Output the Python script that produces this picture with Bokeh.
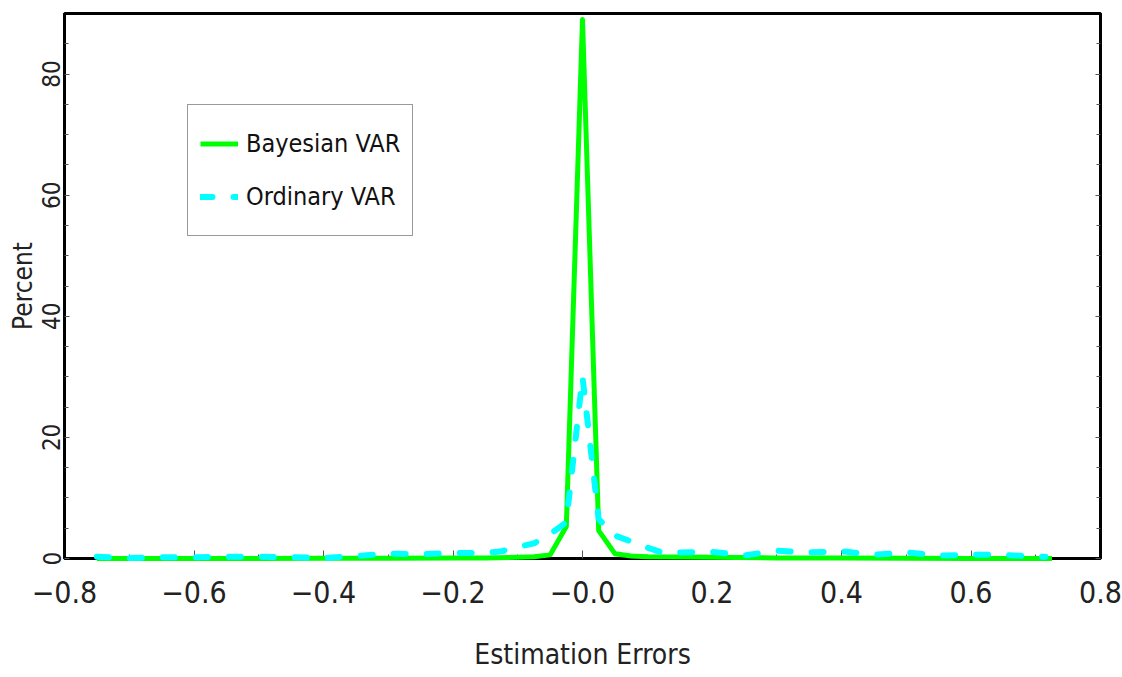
from bokeh.plotting import figure
from bokeh.models import (ColumnDataSource, Legend, LegendItem, LinearAxis,
                          FixedTicker, Range1d)
from bokeh.embed import file_html
from bokeh.resources import INLINE

# ---- data ----
bayes_x = [-0.75, -0.7, -0.6, -0.5, -0.4, -0.3, -0.2, -0.15, -0.1, -0.075, -0.05, -0.025,
           0.0, 0.025, 0.05, 0.075, 0.1, 0.2, 0.3, 0.4, 0.5, 0.6, 0.7, 0.725]
bayes_y = [0.0, 0.0, 0.0, 0.0, 0.05, 0.05, 0.1, 0.1, 0.2, 0.3, 0.6, 5.3,
           89.0, 4.6, 0.8, 0.4, 0.3, 0.2, 0.1, 0.1, 0.05, 0.0, 0.0, 0.0]

ols_x = [-0.75, -0.7, -0.65, -0.6, -0.55, -0.5, -0.45, -0.4, -0.35, -0.3, -0.25, -0.2,
         -0.15, -0.125, -0.1, -0.075, -0.05, -0.025, 0.0, 0.025, 0.05, 0.075, 0.1,
         0.125, 0.15, 0.2, 0.25, 0.3, 0.35, 0.4, 0.45, 0.5, 0.55, 0.6, 0.65, 0.7, 0.715]
ols_y = [0.3, 0.1, 0.2, 0.2, 0.3, 0.3, 0.2, 0.1, 0.4, 0.8, 0.7, 0.9,
         0.9, 1.2, 1.9, 2.5, 4.0, 6.0, 30.0, 6.5, 3.8, 2.8, 1.8,
         0.9, 1.0, 1.1, 0.5, 1.3, 1.0, 1.2, 0.6, 1.0, 0.5, 0.6, 0.6, 0.3, 0.3]

series_names = ["Bayesian VAR", "Ordinary VAR"]
x_ticks = [-0.8, -0.6, -0.4, -0.2, 0.0, 0.2, 0.4, 0.6, 0.8]
x_minor = [-0.7, -0.5, -0.3, -0.1, 0.1, 0.3, 0.5, 0.7]
x_tick_labels = ["\u22120.8", "\u22120.6", "\u22120.4", "\u22120.2", "\u22120.0",
                 "0.2", "0.4", "0.6", "0.8"]
y_ticks = [0, 20, 40, 60, 80]
y_minor = [5, 10, 15, 25, 30, 35, 45, 50, 55, 65, 70, 75, 85]
x_title = "Estimation Errors"
y_title = "Percent"

FONT = "'Liberation Sans Narrow', 'DejaVu Sans Condensed', 'Roboto Condensed', 'Noto Sans', sans-serif"

p = figure(width=1122, height=677, output_backend="svg", toolbar_location=None,
           x_range=Range1d(-0.8, 0.8), y_range=Range1d(0, 90),
           min_border_left=64, min_border_right=22, min_border_top=13,
           min_border_bottom=119, background_fill_color="white",
           border_fill_color="white")
p.grid.visible = False
p.outline_line_color = "black"
p.outline_line_width = 3

src_b = ColumnDataSource(dict(x=bayes_x, y=bayes_y))
src_o = ColumnDataSource(dict(x=ols_x, y=ols_y))

r_b = p.line("x", "y", source=src_b, line_color="#00ff00", line_width=5,
             line_join="round", level="overlay")
r_o = p.line("x", "y", source=src_o, line_color="#00ffff", line_width=6,
             line_dash="12 21", line_cap="round", line_join="round", level="overlay")

# bottom axis
xa = p.xaxis[0]
xa.ticker = FixedTicker(ticks=x_ticks, minor_ticks=x_minor)
xa.major_label_overrides = {t: l for t, l in zip(x_ticks, x_tick_labels)}
xa.axis_label = x_title
xa.axis_line_width = 3
xa.major_tick_in = 8
xa.major_tick_out = 0
xa.minor_tick_in = 4
xa.minor_tick_out = 0
xa.major_tick_line_color = "#555555"
xa.minor_tick_line_color = "#555555"
xa.major_label_standoff = 22
xa.major_label_text_font = FONT
xa.major_label_text_font_size = "30px"
xa.major_label_text_color = "#222222"
xa.axis_label_text_font = FONT
xa.axis_label_text_font_size = "28px"
xa.axis_label_text_font_style = "normal"
xa.axis_label_text_color = "#222222"
xa.axis_label_standoff = 32

# left axis
ya = p.yaxis[0]
ya.ticker = FixedTicker(ticks=y_ticks, minor_ticks=y_minor)
ya.axis_label = y_title
ya.axis_line_width = 3
ya.major_tick_in = 5
ya.major_tick_out = 0
ya.minor_tick_in = 4
ya.minor_tick_out = 0
ya.major_tick_line_color = "#555555"
ya.minor_tick_line_color = "#555555"
ya.major_label_orientation = "vertical"
ya.major_label_standoff = 4
ya.major_label_text_font = FONT
ya.major_label_text_font_size = "24px"
ya.major_label_text_color = "#222222"
ya.axis_label_text_font = FONT
ya.axis_label_text_font_size = "26px"
ya.axis_label_text_font_style = "normal"
ya.axis_label_text_color = "#222222"
ya.axis_label_standoff = 2

# right axis: ticks only
ra = LinearAxis(ticker=FixedTicker(ticks=y_ticks, minor_ticks=y_minor),
                axis_line_width=3, major_tick_in=5, major_tick_out=0,
                minor_tick_in=4, minor_tick_out=0,
                major_tick_line_color="#555555", minor_tick_line_color="#555555",
                major_label_overrides={t: "" for t in y_ticks},
                major_label_standoff=0)
p.add_layout(ra, "right")

legend = Legend(items=[LegendItem(label=series_names[0], renderers=[r_b]),
                       LegendItem(label=series_names[1], renderers=[r_o])],
                location=(123, 322), glyph_width=38, glyph_height=53,
                label_height=53, label_standoff=8, padding=12, spacing=0,
                margin=0, border_line_color="#333333", border_line_width=1,
                background_fill_alpha=1.0,
                label_text_font=FONT, label_text_font_size="25px",
                label_text_color="#111111")
p.add_layout(legend, "center")

open("out.html", "w").write(file_html(p, INLINE))
